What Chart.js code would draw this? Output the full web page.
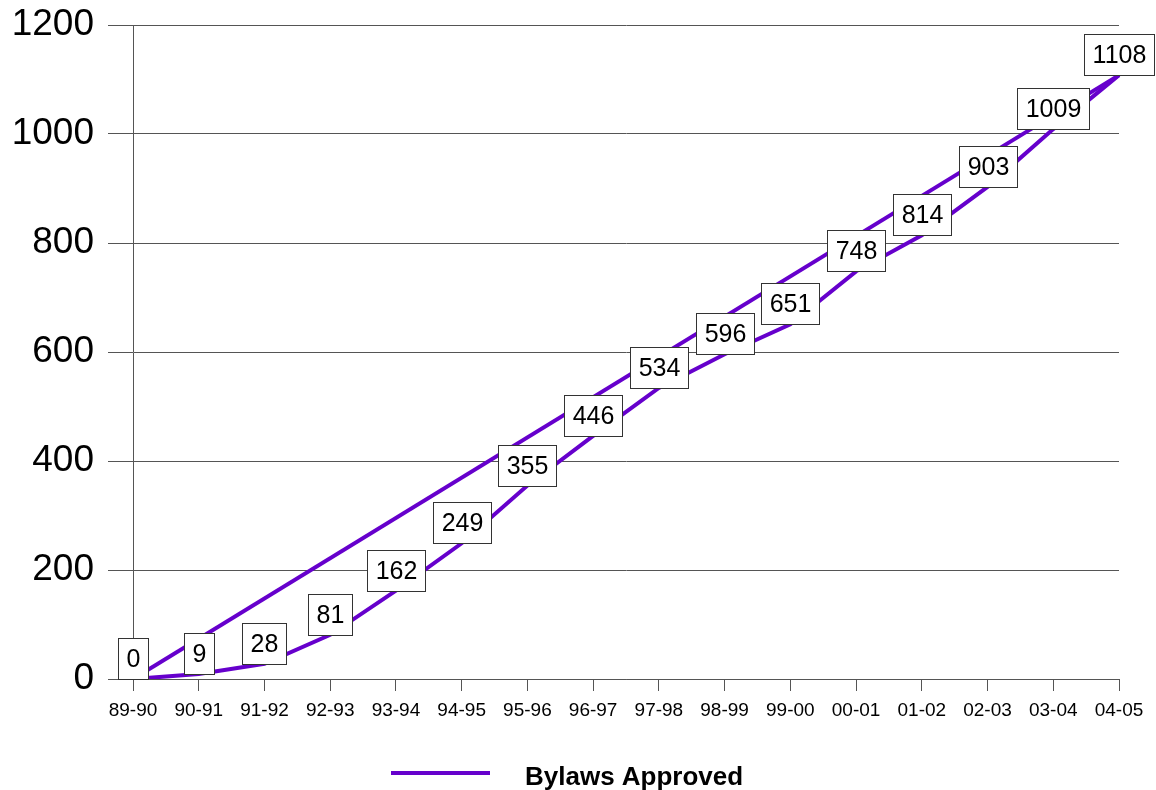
<!DOCTYPE html>
<html>
<head>
<meta charset="utf-8">
<title>Bylaws Approved</title>
<script src="https://cdn.jsdelivr.net/npm/chart.js@4/dist/chart.umd.min.js"></script>
<style>
  html, body { margin: 0; padding: 0; background: #ffffff; }
  #wrap { width: 1156px; height: 790px; }
</style>
</head>
<body>
<div id="wrap"><canvas id="chart" width="1156" height="790"></canvas></div>
<script>
// Fiscal years on the category axis
const years = ['89-90', '90-91', '91-92', '92-93', '93-94', '94-95', '95-96', '96-97',
               '97-98', '98-99', '99-00', '00-01', '01-02', '02-03', '03-04', '04-05'];
// Cumulative bylaws approved
const bylawsApproved = [0, 9, 28, 81, 162, 249, 355, 446, 534, 596, 651, 748, 814, 903, 1009, 1108];
// Straight reference line joining the first and last year
const referenceLine = [0, null, null, null, null, null, null, null,
                       null, null, null, null, null, null, null, 1108];
// Value axis ticks
const yTicks = [0, 200, 400, 600, 800, 1000, 1200];
const seriesName = 'Bylaws Approved';

const PURPLE = '#6600cc';
const GRID = '#555555';
const FONT = '"Liberation Sans", Arial, Helvetica, sans-serif';

// Boxed value labels sitting on top of each point
const valueBoxes = {
  id: 'valueBoxes',
  afterDatasetsDraw(chart) {
    const ctx = chart.ctx;
    const meta = chart.getDatasetMeta(0);
    const values = chart.data.datasets[0].data;
    ctx.save();
    ctx.font = '25px ' + FONT;
    ctx.textAlign = 'center';
    ctx.textBaseline = 'middle';
    meta.data.forEach((pt, i) => {
      const text = String(values[i]);
      const w = Math.round(ctx.measureText(text).width + 16);
      const h = 41;
      const left = Math.round(pt.x - w / 2) + 0.5;
      const top = Math.round(pt.y - h) + 0.5;
      ctx.fillStyle = '#ffffff';
      ctx.fillRect(left, top, w, h);
      ctx.strokeStyle = '#333333';
      ctx.lineWidth = 1;
      ctx.strokeRect(left, top, w, h);
      ctx.fillStyle = '#000000';
      ctx.fillText(text, left + w / 2, top + h / 2 + 1);
    });
    ctx.restore();
  }
};

// Legend below the axis: a line sample followed by the bold series name
const bottomLegend = {
  id: 'bottomLegend',
  afterDraw(chart) {
    const ctx = chart.ctx;
    ctx.save();
    ctx.strokeStyle = PURPLE;
    ctx.lineWidth = 4;
    ctx.beginPath();
    ctx.moveTo(391, 773);
    ctx.lineTo(490, 773);
    ctx.stroke();
    ctx.fillStyle = '#000000';
    ctx.font = 'bold 26px ' + FONT;
    ctx.textAlign = 'left';
    ctx.textBaseline = 'alphabetic';
    ctx.fillText(seriesName, 525, 785);
    ctx.restore();
  }
};

new Chart(document.getElementById('chart'), {
  type: 'line',
  data: {
    labels: years,
    datasets: [
      {
        label: seriesName,
        data: bylawsApproved,
        borderColor: PURPLE,
        backgroundColor: PURPLE,
        borderWidth: 4,
        pointRadius: 0,
        tension: 0,
        fill: false
      },
      {
        label: 'reference',
        data: referenceLine,
        borderColor: PURPLE,
        borderWidth: 4,
        pointRadius: 0,
        spanGaps: true,
        tension: 0,
        fill: false
      }
    ]
  },
  options: {
    responsive: false,
    animation: false,
    layout: { padding: { left: 0, right: 37, top: 25, bottom: 0 } },
    plugins: {
      legend: { display: false },
      tooltip: { enabled: false }
    },
    scales: {
      x: {
        type: 'category',
        offset: false,
        grid: {
          display: true,
          drawOnChartArea: false,
          drawTicks: true,
          tickLength: 12,
          color: GRID,
          lineWidth: 1
        },
        border: { display: true, color: GRID, width: 1 },
        ticks: {
          color: '#000000',
          font: { family: FONT, size: 19 },
          padding: 8,
          maxRotation: 0,
          autoSkip: false
        },
        afterFit(scale) { scale.height = 111; }
      },
      y: {
        min: 0,
        max: 1200,
        afterBuildTicks(scale) { scale.ticks = yTicks.map(v => ({ value: v })); },
        grid: {
          display: true,
          drawOnChartArea: true,
          drawTicks: true,
          tickLength: 25,
          color: GRID,
          lineWidth: 1
        },
        border: { display: true, color: GRID, width: 1 },
        ticks: {
          color: '#000000',
          font: { family: FONT, size: 37 },
          padding: 14,
          callback: (v) => String(v)
        },
        afterFit(scale) {
          scale.width = 133;
          scale.paddingTop = 0;
          scale.paddingBottom = 0;
        }
      }
    }
  },
  plugins: [valueBoxes, bottomLegend]
});
</script>
</body>
</html>
